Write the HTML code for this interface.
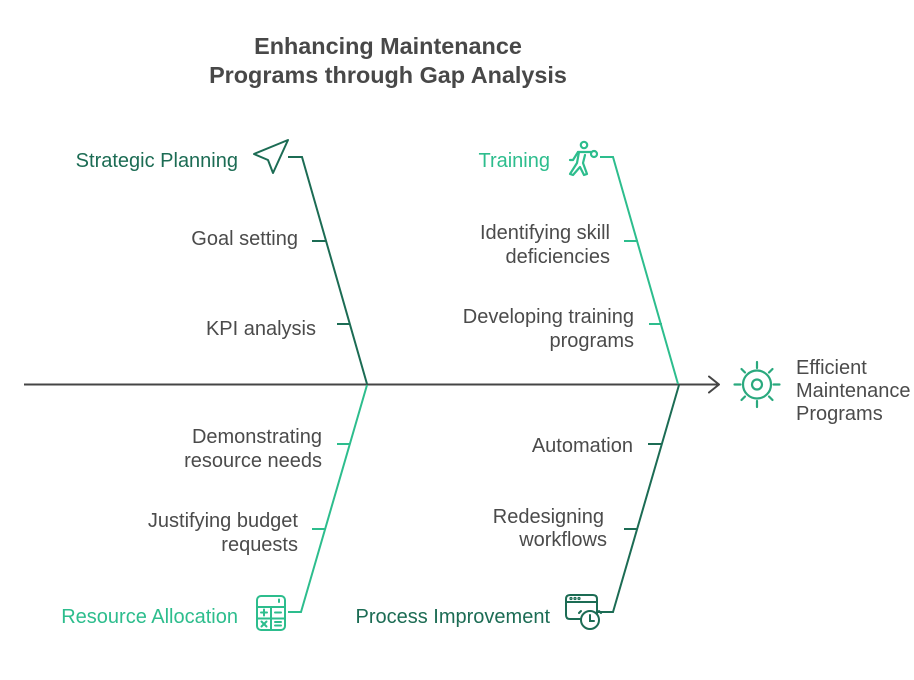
<!DOCTYPE html>
<html>
<head>
<meta charset="utf-8">
<style>
  html,body{margin:0;padding:0;background:#ffffff;}
  svg{display:block;}
  text{font-family:"Liberation Sans",Arial,sans-serif;}
  .lbl{font-size:20px;fill:#4b4b4b;}
  .dg{fill:#1c6c54;}
  .lg{fill:#2dbd8d;}
</style>
</head>
<body>
<svg width="914" height="680" viewBox="0 0 914 680" xmlns="http://www.w3.org/2000/svg">
  <!-- Title -->
  <text x="388" y="54" text-anchor="middle" font-size="23.4" font-weight="bold" fill="#484848">Enhancing Maintenance</text>
  <text x="388" y="83" text-anchor="middle" font-size="23.4" font-weight="bold" fill="#484848">Programs through Gap Analysis</text>

  <!-- Main spine -->
  <line x1="24" y1="384.5" x2="719" y2="384.5" stroke="#454545" stroke-width="2"/>
  <polyline points="709,376.5 719,384.5 709,392.5" fill="none" stroke="#454545" stroke-width="2" stroke-linecap="round" stroke-linejoin="round"/>

  <!-- Strategic Planning bone (dark green) -->
  <polyline points="288,157 302,157 367,384" fill="none" stroke="#1c6c54" stroke-width="2"/>
  <line x1="312" y1="241" x2="326" y2="241" stroke="#1c6c54" stroke-width="2"/>
  <line x1="337" y1="324" x2="350" y2="324" stroke="#1c6c54" stroke-width="2"/>

  <!-- Training bone (light green) -->
  <polyline points="600,157 613,157 678,384" fill="none" stroke="#2dbd8d" stroke-width="2"/>
  <line x1="624" y1="241" x2="638" y2="241" stroke="#2dbd8d" stroke-width="2"/>
  <line x1="649" y1="324" x2="662" y2="324" stroke="#2dbd8d" stroke-width="2"/>

  <!-- Resource Allocation bone (light green) -->
  <polyline points="367,385 301,612 288,612" fill="none" stroke="#2dbd8d" stroke-width="2"/>
  <line x1="337" y1="444" x2="350" y2="444" stroke="#2dbd8d" stroke-width="2"/>
  <line x1="312" y1="529" x2="325" y2="529" stroke="#2dbd8d" stroke-width="2"/>

  <!-- Process Improvement bone (dark green) -->
  <polyline points="679,385 613,612 598,612" fill="none" stroke="#1c6c54" stroke-width="2"/>
  <line x1="648" y1="444" x2="661" y2="444" stroke="#1c6c54" stroke-width="2"/>
  <line x1="624" y1="529" x2="637" y2="529" stroke="#1c6c54" stroke-width="2"/>

  <!-- Category labels -->
  <text x="238" y="167" text-anchor="end" font-size="20" class="dg">Strategic Planning</text>
  <text x="550" y="167" text-anchor="end" font-size="20" class="lg">Training</text>
  <text x="238" y="623" text-anchor="end" font-size="20" class="lg">Resource Allocation</text>
  <text x="550" y="623" text-anchor="end" font-size="20" class="dg">Process Improvement</text>

  <!-- Cause labels -->
  <text class="lbl" x="298" y="245" text-anchor="end">Goal setting</text>
  <text class="lbl" x="316" y="335" text-anchor="end">KPI analysis</text>
  <text class="lbl" x="610" y="239" text-anchor="end">Identifying skill</text>
  <text class="lbl" x="610" y="263" text-anchor="end">deficiencies</text>
  <text class="lbl" x="634" y="323" text-anchor="end">Developing training</text>
  <text class="lbl" x="634" y="347" text-anchor="end">programs</text>
  <text class="lbl" x="322" y="443" text-anchor="end">Demonstrating</text>
  <text class="lbl" x="322" y="467" text-anchor="end">resource needs</text>
  <text class="lbl" x="298" y="527" text-anchor="end">Justifying budget</text>
  <text class="lbl" x="298" y="551" text-anchor="end">requests</text>
  <text class="lbl" x="633" y="452" text-anchor="end">Automation</text>
  <text class="lbl" x="604" y="523" text-anchor="end">Redesigning</text>
  <text class="lbl" x="607" y="546" text-anchor="end">workflows</text>

  <!-- Effect label -->
  <text class="lbl" x="796" y="374">Efficient</text>
  <text class="lbl" x="796" y="397">Maintenance</text>
  <text class="lbl" x="796" y="420">Programs</text>

  <!-- Gear / sun icon -->
  <g stroke="#2aa97e" stroke-width="2.2" fill="none" stroke-linecap="round">
    <circle cx="757" cy="384.5" r="14"/>
    <circle cx="757" cy="384.5" r="5"/>
    <line x1="757" y1="362" x2="757" y2="368"/>
    <line x1="757" y1="401" x2="757" y2="407"/>
    <line x1="734.5" y1="384.5" x2="740.5" y2="384.5"/>
    <line x1="773.5" y1="384.5" x2="779.5" y2="384.5"/>
    <line x1="741.5" y1="369" x2="745" y2="372.5"/>
    <line x1="772.5" y1="369" x2="769" y2="372.5"/>
    <line x1="741.5" y1="400" x2="745" y2="396.5"/>
    <line x1="772.5" y1="400" x2="769" y2="396.5"/>
  </g>

  <!-- Paper plane icon -->
  <path d="M254,154 L288,140 L273,173 L268,160 Z" fill="none" stroke="#1c6c54" stroke-width="2" stroke-linejoin="round"/>

  <!-- Training (person) icon -->
  <g stroke="#2dbd8d" stroke-width="2.2" fill="none" stroke-linecap="round" stroke-linejoin="round">
    <circle cx="584" cy="145" r="3.2"/>
    <path d="M578,152 L591,152"/>
    <circle cx="594" cy="154" r="3"/>
    <path d="M578,152 L573,160 L570,160"/>
    <path d="M579,152 L577,163 L570,174 L573,175 L580,167 L584,175 L587,174 L583,163 L585,155"/>
  </g>

  <!-- Calculator icon -->
  <g stroke="#2dbd8d" stroke-width="2" fill="none" stroke-linecap="round">
    <rect x="257" y="596" width="28" height="34" rx="4"/>
    <line x1="257" y1="607" x2="285" y2="607"/>
    <line x1="271" y1="607" x2="271" y2="630"/>
    <line x1="257" y1="618.5" x2="285" y2="618.5"/>
    <line x1="279" y1="599.5" x2="279" y2="602"/>
    <line x1="261" y1="612.5" x2="267" y2="612.5"/>
    <line x1="264" y1="609.5" x2="264" y2="615.5"/>
    <line x1="275" y1="612.5" x2="281" y2="612.5"/>
    <line x1="261.5" y1="621.5" x2="266.5" y2="626.5"/>
    <line x1="266.5" y1="621.5" x2="261.5" y2="626.5"/>
    <line x1="275" y1="622" x2="281" y2="622"/>
    <line x1="275" y1="625.5" x2="281" y2="625.5"/>
  </g>

  <!-- Browser + clock icon -->
  <g stroke="#1c6c54" stroke-width="2" fill="none" stroke-linecap="round">
    <path d="M581,619 L570,619 Q566,619 566,615 L566,599 Q566,595 570,595 L593,595 Q597,595 597,599 L597,614"/>
    <line x1="566" y1="602" x2="597" y2="602"/>
    <circle cx="571" cy="598.5" r="0.6"/>
    <circle cx="575" cy="598.5" r="0.6"/>
    <circle cx="579" cy="598.5" r="0.6"/>
    <circle cx="590" cy="620" r="9"/>
    <path d="M590,615 L590,621 L594,621"/>
    <line x1="581" y1="611" x2="579" y2="613"/>
    <line x1="599" y1="611" x2="601" y2="613"/>
  </g>
</svg>
</body>
</html>
